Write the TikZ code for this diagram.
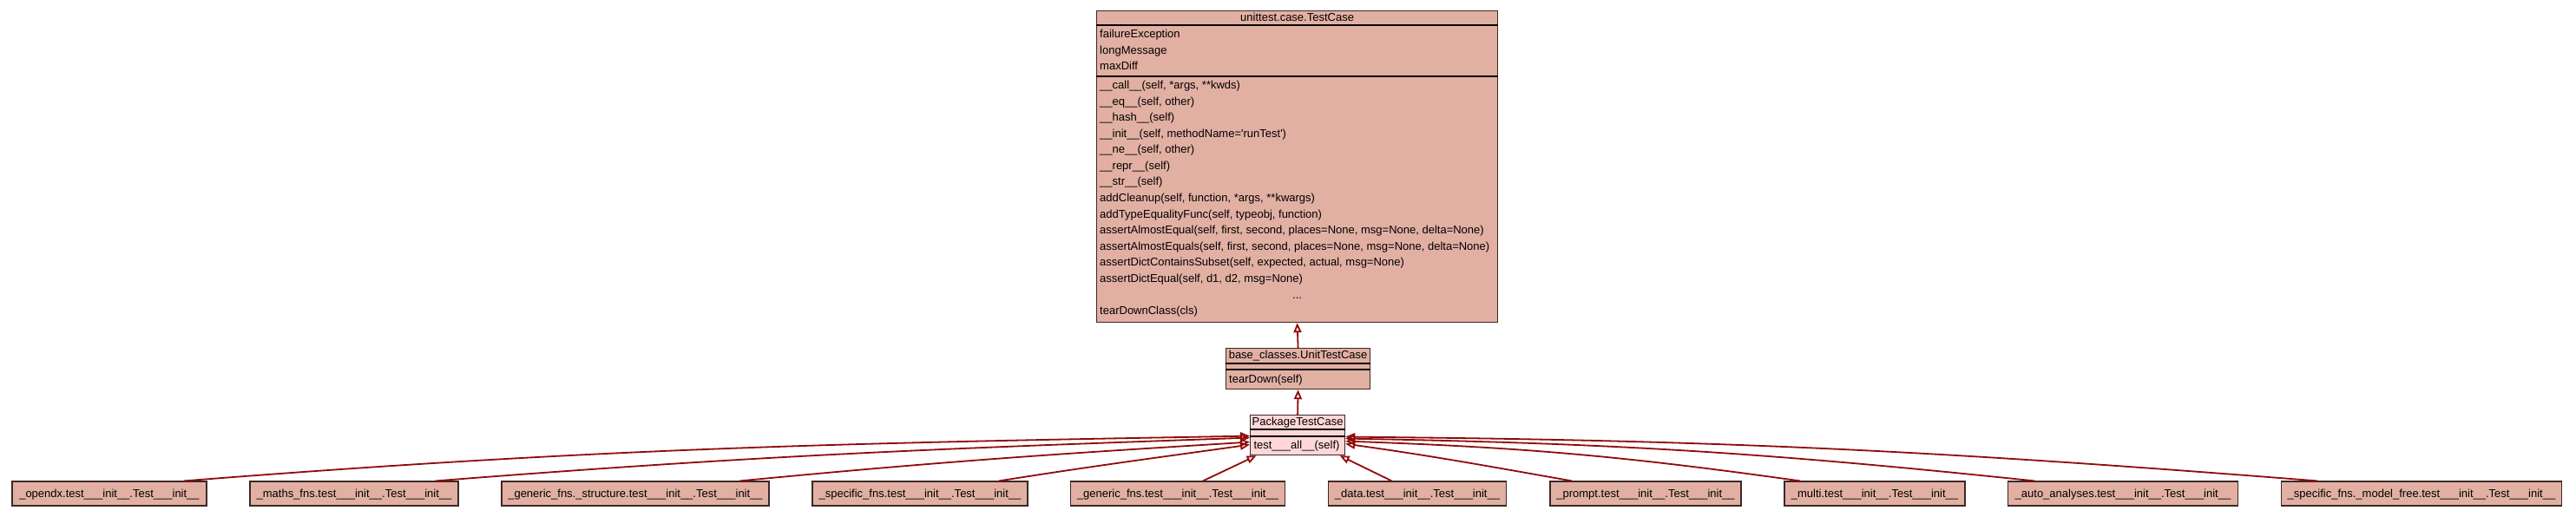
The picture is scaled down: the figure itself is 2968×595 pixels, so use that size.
\documentclass[tikz,border=0pt]{standalone}
\usepackage{fontspec}
\setmainfont{Liberation Sans}
\usetikzlibrary{arrows.meta,positioning}

\definecolor{clsfill}{RGB}{226,176,163}
\definecolor{pkgfill}{RGB}{255,215,215}
\definecolor{clsline}{RGB}{60,40,40}
\definecolor{inhred}{RGB}{145,8,8}

\newcommand{\tinit}{test\_\_\_init\_\_.Test\_\_\_init\_\_}

\begin{document}
\begin{tikzpicture}[
    x = 1pt, y = 1pt,
    > = {Triangle[open, length=11pt, width=9pt]}, % inheritance arrow head
    font = \fontsize{13pt}{15.6pt}\selectfont
    ]

    \tikzset{
    cls/.style = {draw = clsline, line width = 1.2pt, fill = clsfill, inner sep = 0pt, anchor = north west},
    leaf/.style = {cls, anchor = center, minimum height = 28pt, text height = 9.5pt, text depth = 0.5pt},
    sep/.style = {draw = black, line width = 1.2pt},
    title/.style = {anchor = base, inner sep = 0pt},
    member/.style = {anchor = base west, inner sep = 0pt},
    inh/.style = {->, draw = inhred, line width = 1.8pt}
    }

    \useasboundingbox (0,0) rectangle (2968,595);

    % base class
    \node[cls, minimum width = 462pt, minimum height = 359pt] (testcase) at (1263,583) {};
    \draw[sep] ([yshift=-17pt]testcase.north west) -- ([yshift=-17pt]testcase.north east);
    \draw[sep] ([yshift=-76pt]testcase.north west) -- ([yshift=-76pt]testcase.north east);
    \node[title] at ([yshift=-13pt]testcase.north) {unittest.case.TestCase};
    \foreach \a [count=\i] in {failureException, longMessage, maxDiff}
        \node[member] at ([xshift=4pt, yshift={-12.9pt-18.6pt*\i}]testcase.north west) {\a};
    \foreach \m [count=\i] in {
        {\_\_call\_\_(self, *args, **kwds)},
        {\_\_eq\_\_(self, other)},
        {\_\_hash\_\_(self)},
        {\_\_init\_\_(self, methodName=\textquotesingle runTest\textquotesingle)},
        {\_\_ne\_\_(self, other)},
        {\_\_repr\_\_(self)},
        {\_\_str\_\_(self)},
        {addCleanup(self, function, *args, **kwargs)},
        {addTypeEqualityFunc(self, typeobj, function)},
        {assertAlmostEqual(self, first, second, places=None, msg=None, delta=None)},
        {assertAlmostEquals(self, first, second, places=None, msg=None, delta=None)},
        {assertDictContainsSubset(self, expected, actual, msg=None)},
        {assertDictEqual(self, d1, d2, msg=None)}}
        \node[member] at ([xshift=4pt, yshift={-72pt-18.57pt*\i}]testcase.north west) {\m};
    \node[title] at ([yshift=-332pt]testcase.north) {...};
    \node[member] at ([xshift=4pt, yshift=-350.6pt]testcase.north west) {tearDownClass(cls)};

    % middle classes
    \node[cls, minimum width = 166pt, minimum height = 47pt] (unittc) at (1412,194) {};
    \draw[sep] ([yshift=-18pt]unittc.north west) -- ([yshift=-18pt]unittc.north east);
    \draw[sep] ([yshift=-25pt]unittc.north west) -- ([yshift=-25pt]unittc.north east);
    \node[title] at ([yshift=-12.5pt]unittc.north) {base\_classes.UnitTestCase};
    \node[member] at ([xshift=4pt, yshift=-40.5pt]unittc.north west) {tearDown(self)};

    \node[cls, fill = pkgfill, minimum width = 109pt, minimum height = 46pt] (pkgtc) at (1440,117) {};
    \draw[sep] ([yshift=-17pt]pkgtc.north west) -- ([yshift=-17pt]pkgtc.north east);
    \draw[sep] ([yshift=-25pt]pkgtc.north west) -- ([yshift=-25pt]pkgtc.north east);
    \node[title] at ([yshift=-12pt]pkgtc.north) {PackageTestCase};
    \node[member] at ([xshift=4.3pt, yshift=-39.8pt]pkgtc.north west) {test\_\_\_all\_\_(self)};

    % test classes
    \node[leaf, minimum width = 224pt] (opendx) at (126,26) {\_opendx.\tinit};
    \node[leaf, minimum width = 240pt] (maths) at (408,26) {\_maths\_fns.\tinit};
    \node[leaf, minimum width = 308pt] (structure) at (732,26) {\_generic\_fns.\_structure.\tinit};
    \node[leaf, minimum width = 248pt] (specific) at (1060,26) {\_specific\_fns.\tinit};
    \node[leaf, minimum width = 247pt] (generic) at (1357,26) {\_generic\_fns.\tinit};
    \node[leaf, minimum width = 205pt] (data) at (1633,26) {\_data.\tinit};
    \node[leaf, minimum width = 220pt] (prompt) at (1896,26) {\_prompt.\tinit};
    \node[leaf, minimum width = 208pt] (multi) at (2160,26) {\_multi.\tinit};
    \node[leaf, minimum width = 265pt] (auto) at (2446,26) {\_auto\_analyses.\tinit};
    \node[leaf, minimum width = 323pt] (modelfree) at (2790,26) {\_specific\_fns.\_model\_free.\tinit};

    % inheritance
    \draw[inh] (unittc.north) -- (testcase.south);
    \draw[inh] (pkgtc.north) -- (unittc.south);
    \draw[inh] ([xshift=86pt]opendx.north) .. controls +(4.5:480) and +(181:480) .. ([yshift=-1pt]pkgtc.west);
    \draw[inh] ([xshift=94pt]maths.north) .. controls +(4.5:370) and +(182:370) .. ([yshift=-3pt]pkgtc.west);
    \draw[inh] ([xshift=120.5pt]structure.north) .. controls +(5.5:230) and +(183.5:230) .. ([yshift=-8pt]pkgtc.west);
    \draw[inh] ([xshift=91pt]specific.north) .. controls +(9:115) and +(188:115) .. ([yshift=-11pt]pkgtc.west);
    \draw[inh] ([xshift=29pt]generic.north) -- ([xshift=-47.5pt]pkgtc.south);
    \draw[inh] ([xshift=-29.5pt]data.north) -- ([xshift=48.5pt]pkgtc.south);
    \draw[inh] ([xshift=-85pt]prompt.north) .. controls +(170:105) and +(-8:105) .. ([yshift=-10pt]pkgtc.east);
    \draw[inh] ([xshift=-86pt]multi.north) .. controls +(172:205) and +(-2:205) .. ([yshift=-7pt]pkgtc.east);
    \draw[inh] ([xshift=-102pt]auto.north) .. controls +(174:310) and +(-1:310) .. ([yshift=-4pt]pkgtc.east);
    \draw[inh] ([xshift=-120pt]modelfree.north) .. controls +(175.5:440) and +(-0.5:440) .. ([yshift=-2pt]pkgtc.east);

\end{tikzpicture}
\end{document}
